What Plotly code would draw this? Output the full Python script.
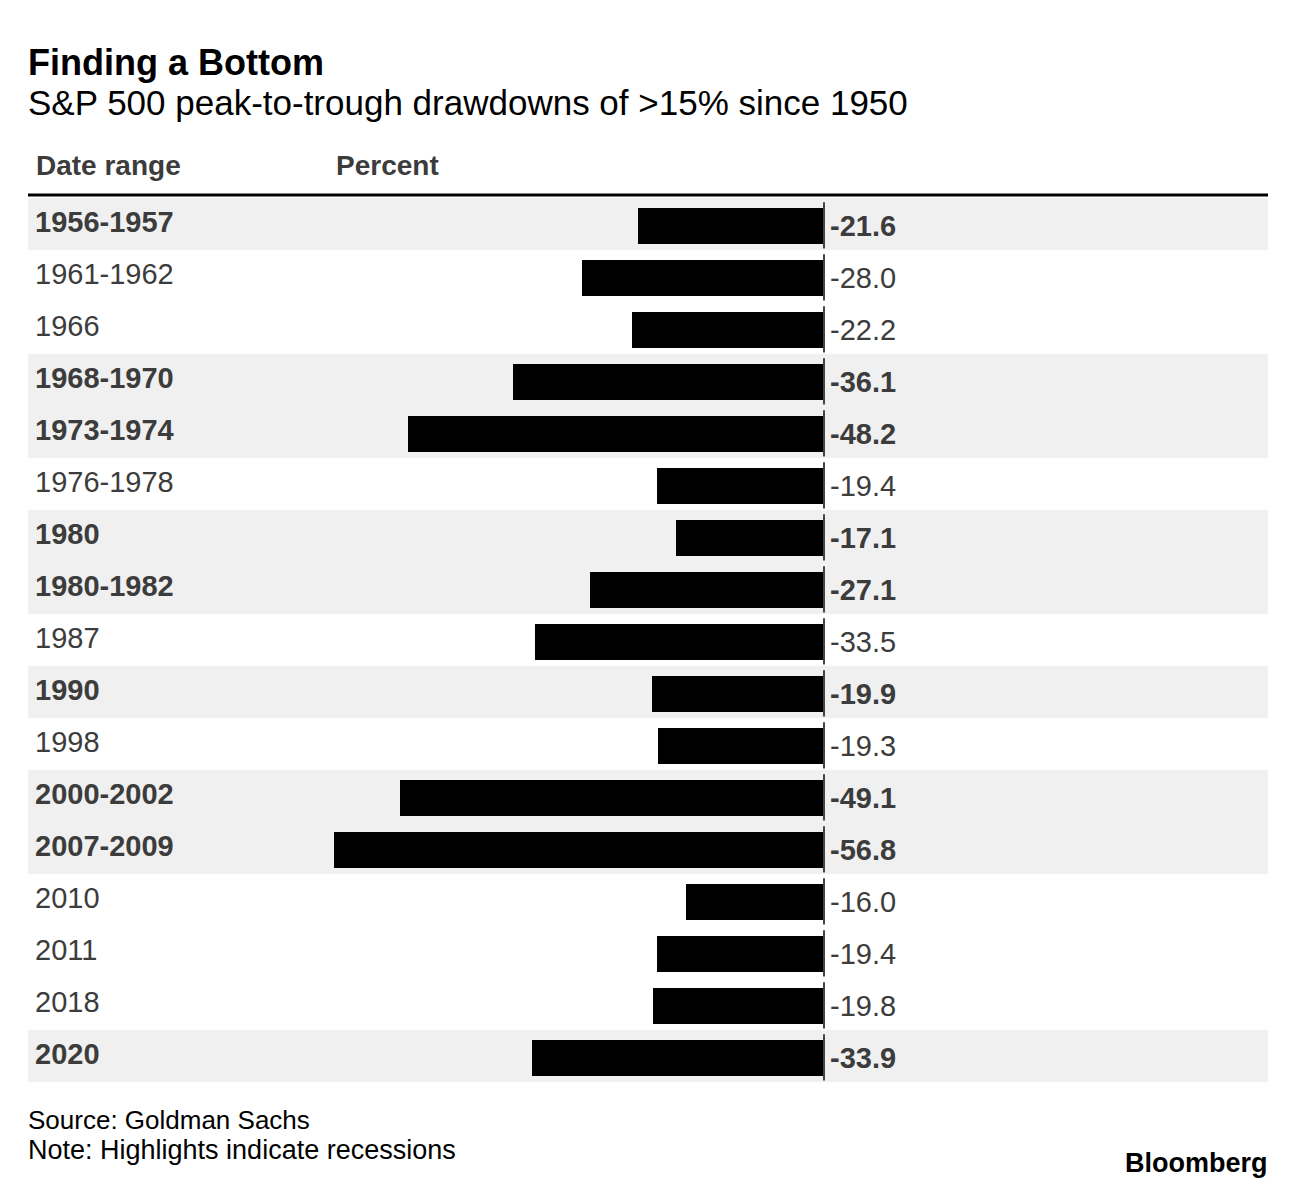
import plotly.graph_objects as go

ranges = ["1956-1957", "1961-1962", "1966", "1968-1970", "1973-1974", "1976-1978",
          "1980", "1980-1982", "1987", "1990", "1998", "2000-2002", "2007-2009",
          "2010", "2011", "2018", "2020"]
values = [-21.6, -28.0, -22.2, -36.1, -48.2, -19.4, -17.1, -27.1, -33.5, -19.9,
          -19.3, -49.1, -56.8, -16.0, -19.4, -19.8, -33.9]
recession = [1, 0, 0, 1, 1, 0, 1, 1, 0, 1, 0, 1, 1, 0, 0, 0, 1]

title = "Finding a Bottom"
subtitle = "S&P 500 peak-to-trough drawdowns of >15% since 1950"
col_headers = ["Date range", "Percent"]
source = "Source: Goldman Sachs"
note = "Note: Highlights indicate recessions"

# page body has an 8px margin; figure coordinates = reference coordinates - 8
OFF = 8
W, H = 1296 - OFF, 1190 - OFF
ML, MR, MT, MB = 28 - OFF, 28, 198 - OFF, 108
PH = H - MT - MB
PW = W - ML - MR
FONT = "Liberation Sans, Arial, sans-serif"
TXT = "#3c3c3c"


def py(ypix):
    return (H - MB - (ypix - OFF)) / PH


def px(xpix):
    return (xpix - OFF - ML) / PW


n = len(ranges)
idx = list(range(n))
BAR_W = 0.69

fig = go.Figure()
fig.add_trace(go.Bar(
    x=values, y=idx, orientation="h", width=BAR_W, offset=-BAR_W / 2 + 0.04,
    marker=dict(color="#000000", line=dict(width=0)),
    hoverinfo="x+text", text=ranges, textposition="none",
))

shapes = []
annotations = []
for i, (r, v, rec) in enumerate(zip(ranges, values, recession)):
    if rec:
        shapes.append(dict(type="rect", xref="paper", yref="y", x0=0, x1=1,
                           y0=i - 0.5, y1=i + 0.5, fillcolor="#f0f0f0",
                           line=dict(width=0), layer="below"))
    shapes.append(dict(type="line", xref="x", yref="y", x0=0, x1=0,
                       y0=i - 0.42, y1=i + 0.47, line=dict(color="#444444", width=2)))
    annotations.append(dict(
        xref="paper", yref="y", x=0, y=i, xshift=5, yshift=2,
        xanchor="left", yanchor="middle", showarrow=False,
        text=f"<b>{r}</b>" if rec else r,
        font=dict(family=FONT, size=29, color=TXT)))
    annotations.append(dict(
        xref="x", yref="y", x=0, y=i, xshift=4, yshift=-2,
        xanchor="left", yanchor="middle", showarrow=False,
        text=f"<b>{v:.1f}</b>" if rec else f"{v:.1f}",
        font=dict(family=FONT, size=29, color=TXT)))

# header line
shapes.append(dict(type="line", xref="paper", yref="paper", x0=0, x1=1,
                   y0=py(195), y1=py(195), line=dict(color="#000000", width=3)))

annotations += [
    dict(xref="paper", yref="paper", x=0, y=py(62), xanchor="left", yanchor="middle",
         showarrow=False, text=f"<b>{title}</b>", xshift=-2,
         font=dict(family=FONT, size=36, color="#000000")),
    dict(xref="paper", yref="paper", x=0, y=py(103), xanchor="left", yanchor="middle",
         showarrow=False, text=subtitle, xshift=-2,
         font=dict(family=FONT, size=35, color="#000000")),
    dict(xref="paper", yref="paper", x=px(34), y=py(166), xanchor="left", yanchor="middle",
         showarrow=False, text=f"<b>{col_headers[0]}</b>",
         font=dict(family=FONT, size=28, color=TXT)),
    dict(xref="paper", yref="paper", x=px(334), y=py(166), xanchor="left", yanchor="middle",
         showarrow=False, text=f"<b>{col_headers[1]}</b>",
         font=dict(family=FONT, size=28, color=TXT)),
    dict(xref="paper", yref="paper", x=0, y=py(1120), xanchor="left", yanchor="middle",
         showarrow=False, text=source, xshift=-2,
         font=dict(family=FONT, size=26, color="#000000")),
    dict(xref="paper", yref="paper", x=0, y=py(1150), xanchor="left", yanchor="middle",
         showarrow=False, text=note, xshift=-2,
         font=dict(family=FONT, size=27, color="#000000")),
    dict(xref="paper", yref="paper", x=1, y=py(1163), xanchor="right", yanchor="middle",
         showarrow=False, text="<b>Bloomberg</b>", xshift=2,
         font=dict(family=FONT, size=27, color="#000000")),
]

zero_px = 824 - OFF
scale = 490 / 56.8
xmin = -(zero_px - ML) / scale
xmax = (W - MR - zero_px) / scale

fig.update_layout(
    width=W, height=H,
    margin=dict(l=ML, r=MR, t=MT, b=MB),
    paper_bgcolor="#ffffff", plot_bgcolor="#ffffff",
    showlegend=False,
    xaxis=dict(range=[xmin, xmax], visible=False, fixedrange=True),
    yaxis=dict(range=[n - 0.5, -0.5], visible=False, fixedrange=True),
    shapes=shapes, annotations=annotations,
    bargap=0,
)

fig.write_html("out.html")
